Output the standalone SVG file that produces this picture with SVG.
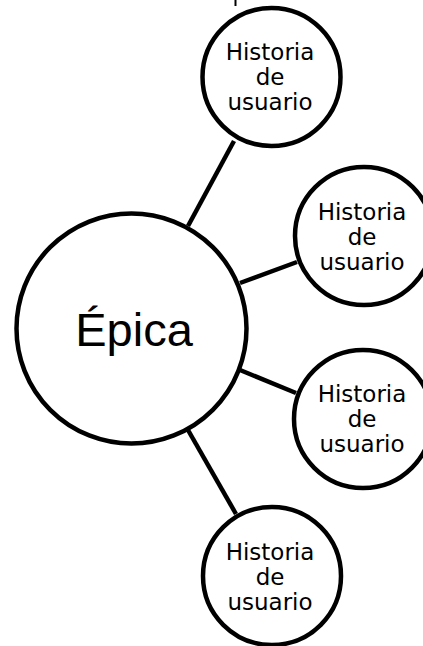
<svg xmlns="http://www.w3.org/2000/svg" width="423" height="646" viewBox="0 0 423 646">
<style>
.node{fill:#fff;stroke:#000;stroke-width:4.5}
.conn{stroke:#000;stroke-width:4.5;fill:none}
.hs{font-family:"DejaVu Sans",Verdana,sans-serif;font-size:23px;fill:#000;text-anchor:middle}
.ep{font-family:"Liberation Sans",Arial,sans-serif;font-size:47px;fill:#000;text-anchor:middle}
</style>
<rect width="423" height="646" fill="#fff"/>
<g id="connectors">
<line class="conn" x1="235.5" y1="0" x2="235.5" y2="6" style="stroke-width:2"/>
<line class="conn" x1="188" y1="226" x2="234" y2="141"/>
<line class="conn" x1="240" y1="283" x2="297" y2="262"/>
<line class="conn" x1="240" y1="370" x2="296" y2="393"/>
<line class="conn" x1="188" y1="430" x2="236" y2="514"/>
</g>
<g id="epica">
<circle class="node" cx="131.5" cy="328.5" r="115"/>
<text class="ep" x="134" y="346">Épica</text>
</g>
<g id="historia1">
<circle class="node" cx="271.5" cy="77" r="69"/>
<text class="hs" x="270" y="60">Historia</text>
<text class="hs" x="270" y="85">de</text>
<text class="hs" x="270" y="110">usuario</text>
</g>
<g id="historia2">
<circle class="node" cx="364" cy="236" r="69"/>
<text class="hs" x="362" y="220">Historia</text>
<text class="hs" x="362" y="245">de</text>
<text class="hs" x="362" y="270">usuario</text>
</g>
<g id="historia3">
<circle class="node" cx="363" cy="419" r="69"/>
<text class="hs" x="362" y="402">Historia</text>
<text class="hs" x="362" y="427">de</text>
<text class="hs" x="362" y="452">usuario</text>
</g>
<g id="historia4">
<circle class="node" cx="272" cy="576" r="69"/>
<text class="hs" x="270" y="560">Historia</text>
<text class="hs" x="270" y="585">de</text>
<text class="hs" x="270" y="610">usuario</text>
</g>
</svg>
